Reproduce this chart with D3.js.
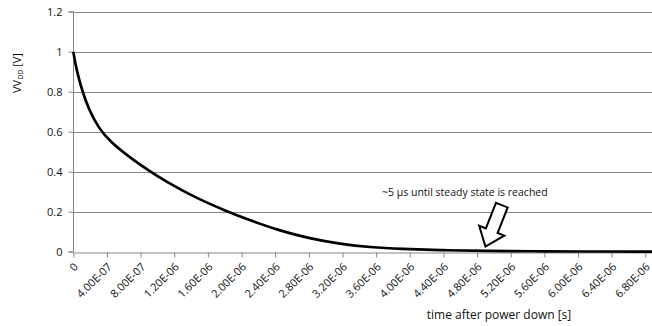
<!DOCTYPE html>
<html><head><meta charset="utf-8">
<script src="https://cdn.jsdelivr.net/npm/d3@7/dist/d3.min.js"></script>
<style>body{margin:0;background:#fff}svg{display:block}</style>
</head><body>
<svg id="c" width="652" height="326"></svg>
<script>
// time after power down, in seconds
const times = [0, 0.01e-6, 0.03e-6, 0.06e-6, 0.11e-6, 0.18e-6, 0.30e-6, 0.44e-6, 0.70e-6, 0.91e-6,
  1.09e-6, 1.45e-6, 1.82e-6, 2.10e-6, 2.46e-6, 2.81e-6, 3.17e-6, 3.53e-6, 3.89e-6,
  4.40e-6, 4.90e-6, 5.50e-6, 6.00e-6, 6.88e-6];
// supply voltage VV_DD in volts
const volts = [1.0, 0.975, 0.93, 0.875, 0.80, 0.716, 0.618, 0.549, 0.462, 0.402,
  0.354, 0.270, 0.203, 0.157, 0.104, 0.066, 0.039, 0.022, 0.0135,
  0.007, 0.004, 0.002, 0.001, 0.0005];
const xTicks = [0,4e-7,8e-7,1.2e-6,1.6e-6,2e-6,2.4e-6,2.8e-6,3.2e-6,3.6e-6,4e-6,4.4e-6,4.8e-6,5.2e-6,5.6e-6,6e-6,6.4e-6,6.8e-6];
const xTickLabels = ["0","4.00E-07","8.00E-07","1.20E-06","1.60E-06","2.00E-06","2.40E-06","2.80E-06","3.20E-06","3.60E-06","4.00E-06","4.40E-06","4.80E-06","5.20E-06","5.60E-06","6.00E-06","6.40E-06","6.80E-06"];
const yTicks = [0,0.2,0.4,0.6,0.8,1,1.2];
const yTickLabels = ["0","0.2","0.4","0.6","0.8","1","1.2"];
const annotationText = "~5 µs until steady state is reached";
const arrowTip = [4.9e-6, 0.026];   // where the block arrow points
const xTitle = "time after power down [s]";

const svg = d3.select("#c");
const font = "'Open Sans', 'Liberation Sans', Arial, sans-serif";
const x = d3.scaleLinear().domain([0, 6.88e-6]).range([73.3, 652]);
const y = d3.scaleLinear().domain([0, 1.2]).range([251.7, 11.7]);

// gridlines
svg.append("g").selectAll("line").data(yTicks.filter(d => d > 0)).join("line")
  .attr("x1", x(0)).attr("x2", 652)
  .attr("y1", d => Math.round(y(d)) + 0.5).attr("y2", d => Math.round(y(d)) + 0.5)
  .attr("stroke", "#868686").attr("stroke-width", 1);

// y axis
const yAxis = svg.append("g").attr("transform", `translate(${Math.round(x(0))+0.5},0)`)
  .call(d3.axisLeft(y).tickValues(yTicks).tickFormat((d,i) => yTickLabels[i]).tickSize(5).tickPadding(6));
yAxis.selectAll("path,line").attr("stroke", "#868686");
yAxis.selectAll("text").attr("font-family", font).attr("font-size", 11).attr("fill", "#111");
yAxis.select(".domain").attr("d", `M-5,${y(1.2)}H0V${y(0)}H-5`);

// x axis
const xAxis = svg.append("g").attr("transform", `translate(0,${Math.round(y(0))+0.5})`)
  .call(d3.axisBottom(x).tickValues(xTicks).tickFormat((d,i) => xTickLabels[i]).tickSize(5).tickSizeOuter(0));
xAxis.selectAll("path,line").attr("stroke", "#868686");
xAxis.selectAll("text").attr("font-family", font).attr("font-size", 11).attr("fill", "#111")
  .attr("text-anchor", "end").attr("dy", null).attr("y", 0)
  .attr("transform", "translate(5,15) rotate(-45)");

// curve
svg.append("path").datum(times.map((t, i) => [t, volts[i]]))
  .attr("d", d3.line().x(d => x(d[0])).y(d => y(d[1])).curve(d3.curveBasis))
  .attr("fill", "none").attr("stroke", "#000").attr("stroke-width", 2.7)
  .attr("stroke-linejoin", "round");

// y title
const yt = svg.append("text").attr("transform", "translate(21,73) rotate(-90)")
  .attr("text-anchor", "middle").attr("font-family", font).attr("font-size", 11).attr("fill", "#111");
yt.append("tspan").text("VV");
yt.append("tspan").attr("font-size", 7).attr("dy", 2).text("DD");
yt.append("tspan").attr("dy", -2).text(" [V]");

// x title
svg.append("text").attr("x", 499).attr("y", 319).attr("text-anchor", "middle")
  .attr("font-family", font).attr("font-size", 12).attr("fill", "#111").text(xTitle);

// annotation
svg.append("text").attr("x", 382).attr("y", 196).attr("font-family", font)
  .attr("font-size", 10.5).attr("fill", "#111").text(annotationText);

// block arrow
const tipX = x(arrowTip[0]), tipY = y(arrowTip[1]);
const L = 44.5, sw = 6.3, hw = 13.5, hl = 17;
const pts = [[-sw,-L],[sw,-L],[sw,-hl],[hw,-hl],[0,0],[-hw,-hl],[-sw,-hl]];
svg.append("polygon").attr("points", pts.map(p => p.join(",")).join(" "))
  .attr("transform", `translate(${tipX},${tipY}) rotate(21.6)`)
  .attr("fill", "#fff").attr("stroke", "#000").attr("stroke-width", 2).attr("stroke-linejoin", "miter");
</script>
</body></html>
